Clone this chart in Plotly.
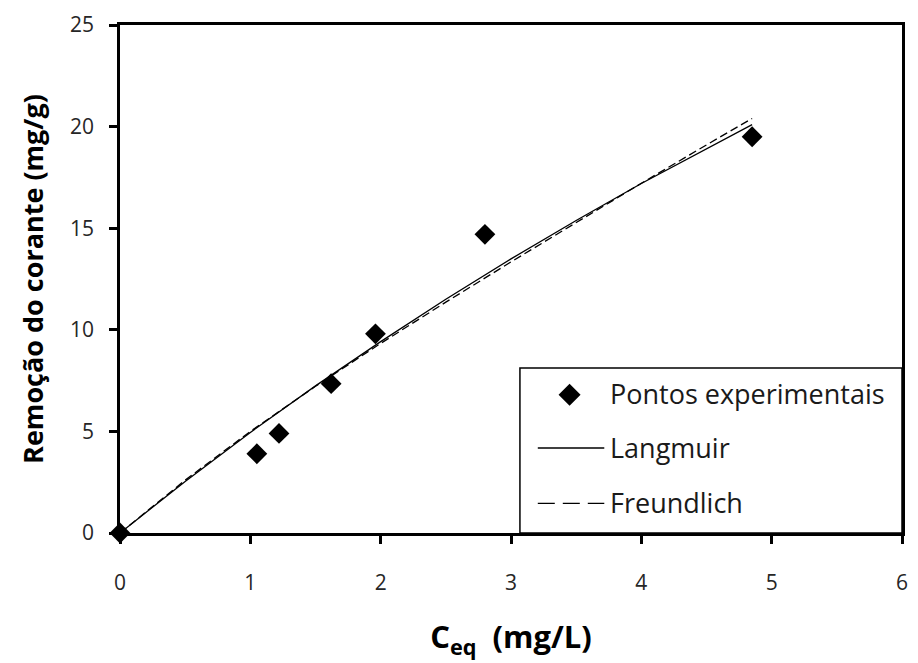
import plotly.graph_objects as go

# Experimental equilibrium data
ceq_exp = [0.0, 1.05, 1.22, 1.62, 1.96, 2.80, 4.85]
q_exp = [0.0, 3.9, 4.9, 7.35, 9.8, 14.7, 19.5]

# Fitted isotherm curves
ceq_fit = [0.0, 0.5, 1.0, 1.5, 2.0, 2.5, 3.0, 3.5, 4.0, 4.5, 4.85]
q_langmuir = [0.0, 2.54, 4.95, 7.24, 9.42, 11.50, 13.49, 15.38, 17.20, 18.93, 20.10]
q_freundlich = [0.0, 2.60, 5.00, 7.22, 9.33, 11.36, 13.34, 15.29, 17.21, 19.10, 20.40]

x_ticks = [0, 1, 2, 3, 4, 5, 6]
y_ticks = [0, 5, 10, 15, 20, 25]

legend_labels = ["Pontos experimentais", "Langmuir", "Freundlich"]

font_family = "'Open Sans', Lato, sans-serif"
W, H = 918, 663
M_L, M_R, M_T, M_B = 120, 10, 19, 130
PW, PH = W - M_L - M_R, H - M_T - M_B


def px_x(px):
    """Pixel column -> paper x fraction of the plot area."""
    return (px - M_L) / PW


def px_y(py):
    """Pixel row -> paper y fraction of the plot area."""
    return (H - M_B - py) / PH


fig = go.Figure()
fig.add_trace(go.Scatter(
    x=ceq_fit, y=q_langmuir, mode="lines", name=legend_labels[1],
    line=dict(color="black", width=1.3), showlegend=False,
))
fig.add_trace(go.Scatter(
    x=ceq_fit, y=q_freundlich, mode="lines", name=legend_labels[2],
    line=dict(color="black", width=1.3, dash="8px,4px"), showlegend=False,
))
fig.add_trace(go.Scatter(
    x=ceq_exp, y=q_exp, mode="markers", name=legend_labels[0],
    marker=dict(symbol="diamond", size=16, color="black"), showlegend=False,
    cliponaxis=False,
))

axis_common = dict(
    showline=True, linecolor="black", linewidth=2.5, mirror=True,
    showgrid=False, zeroline=False, ticks="outside", ticklen=8, tickwidth=2.5,
    tickcolor="black", tickfont=dict(family=font_family, size=21, color="#262626"),
)

# Legend box drawn in the lower-right corner of the plot area
shapes = [
    dict(type="rect", xref="paper", yref="paper",
         x0=px_x(523), x1=1.0, y0=0.0, y1=px_y(366),
         line=dict(color="black", width=1.5), fillcolor="white", layer="above"),
    dict(type="path", xref="paper", yref="paper",
         xsizemode="pixel", ysizemode="pixel",
         xanchor=px_x(573), yanchor=px_y(393),
         path="M0,11 L11,0 L0,-11 L-11,0 Z",
         line=dict(color="black", width=0), fillcolor="black", layer="above"),
    dict(type="line", xref="paper", yref="paper",
         x0=px_x(541), x1=px_x(608), y0=px_y(447), y1=px_y(447),
         line=dict(color="black", width=1.3), layer="above"),
    dict(type="line", xref="paper", yref="paper",
         x0=px_x(541), x1=px_x(608), y0=px_y(503), y1=px_y(503),
         line=dict(color="black", width=1.3, dash="17px,8px"), layer="above"),
]

annotations = [
    dict(text=label, xref="paper", yref="paper", x=px_x(612), y=px_y(row_y),
         xanchor="left", yanchor="middle", showarrow=False,
         font=dict(family=font_family, size=27, color="#1a1a1a"))
    for label, row_y in zip(legend_labels, [392, 446, 502])
]

fig.update_layout(
    width=W, height=H,
    margin=dict(l=M_L, r=M_R, t=M_T, b=M_B),
    paper_bgcolor="white", plot_bgcolor="white",
    font=dict(family=font_family, color="black"),
    showlegend=False,
    xaxis=dict(
        range=[0, 6], tickvals=x_ticks, ticklabelstandoff=21,
        title=dict(text="<b>C<sub>eq</sub>  (mg/L)</b>", font=dict(size=31), standoff=32),
        **axis_common,
    ),
    yaxis=dict(
        range=[0, 25], tickvals=y_ticks, ticklabelstandoff=11,
        title=dict(text="<b>Remoção do corante (mg/g)</b>", font=dict(size=27), standoff=19),
        **axis_common,
    ),
    shapes=shapes,
    annotations=annotations,
)

fig.write_html("out.html")
